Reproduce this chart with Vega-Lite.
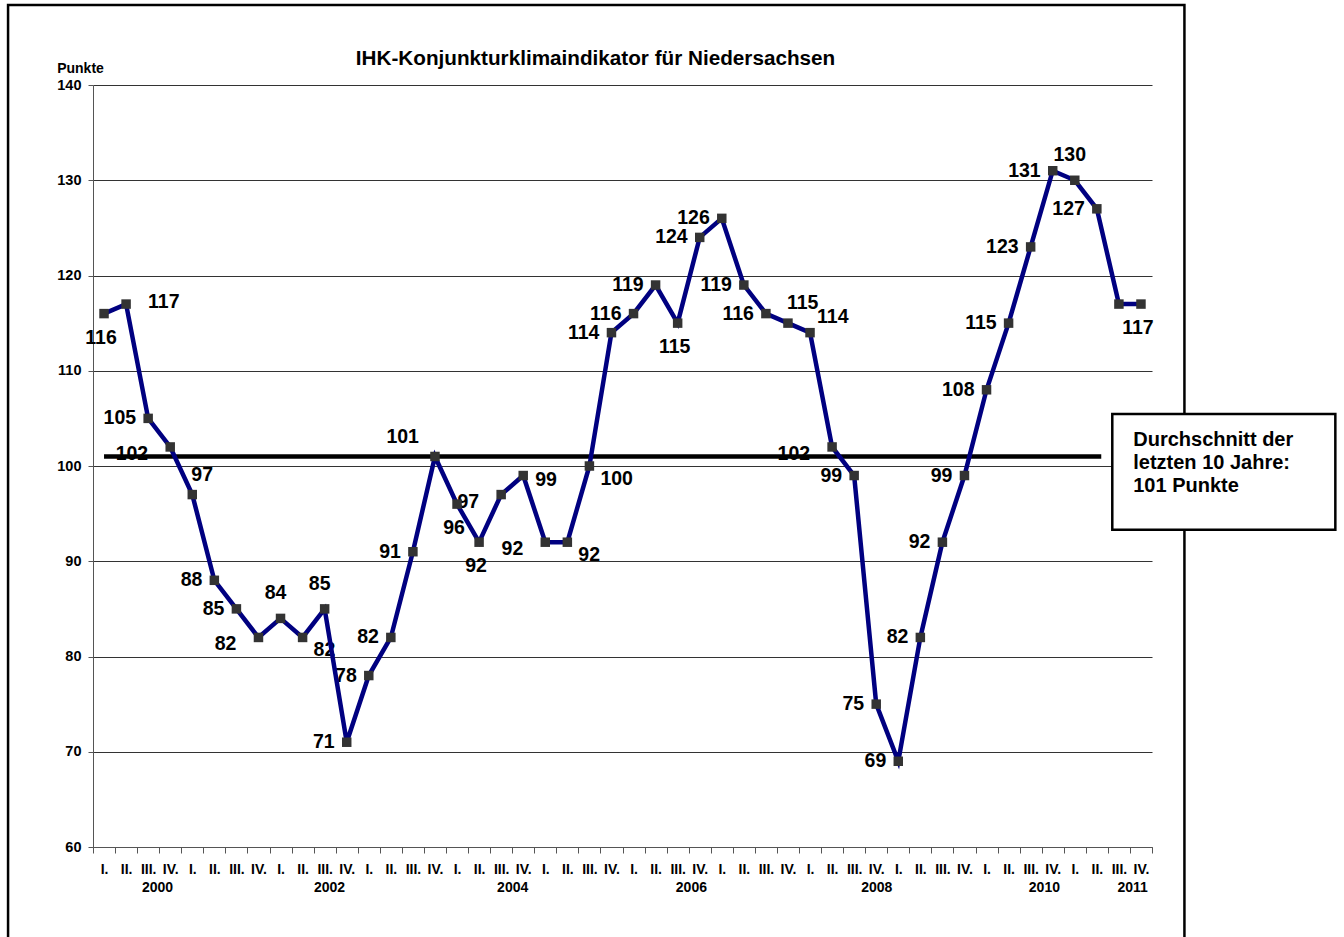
{
  "$schema": "https://vega.github.io/schema/vega-lite/v6.json",
  "width": 1059,
  "height": 762,
  "autosize": {"type": "none"},
  "padding": {"left": 93, "top": 85, "right": 192, "bottom": 90},
  "background": "white",
  "title": {
    "text": "IHK-Konjunkturklimaindikator für Niedersachsen",
    "fontSize": 20.7,
    "fontWeight": "bold",
    "font": "Liberation Sans",
    "color": "black",
    "anchor": "middle",
    "frame": "group",
    "dx": -27,
    "dy": 80,
    "offset": 14
  },
  "config": {
    "view": {"stroke": null},
    "font": "Liberation Sans",
    "text": {"font": "Liberation Sans"}
  },
  "datasets": {
    "series": [
      {"q": 0, "v": 116, "labelSide": "b"},
      {"q": 1, "v": 117, "labelSide": "rr"},
      {"q": 2, "v": 105, "labelSide": "l"},
      {"q": 3, "v": 102, "labelSide": "bl"},
      {"q": 4, "v": 97, "labelSide": "tr"},
      {"q": 5, "v": 88, "labelSide": "l"},
      {"q": 6, "v": 85, "labelSide": "l"},
      {"q": 7, "v": 82, "labelSide": "bl"},
      {"q": 8, "v": 84, "labelSide": "t"},
      {"q": 9, "v": 82, "labelSide": "br"},
      {"q": 10, "v": 85, "labelSide": "t"},
      {"q": 11, "v": 71, "labelSide": "l"},
      {"q": 12, "v": 78, "labelSide": "l"},
      {"q": 13, "v": 82, "labelSide": "l"},
      {"q": 14, "v": 91, "labelSide": "l"},
      {"q": 15, "v": 101, "labelSide": "tl"},
      {"q": 16, "v": 96, "labelSide": "b"},
      {"q": 17, "v": 92, "labelSide": "b"},
      {"q": 18, "v": 97, "labelSide": "bl"},
      {"q": 19, "v": 99, "labelSide": "r"},
      {"q": 20, "v": 92, "labelSide": "bl"},
      {"q": 21, "v": 92, "labelSide": "br"},
      {"q": 22, "v": 100, "labelSide": "br"},
      {"q": 23, "v": 114, "labelSide": "l"},
      {"q": 24, "v": 116, "labelSide": "l"},
      {"q": 25, "v": 119, "labelSide": "l"},
      {"q": 26, "v": 115, "labelSide": "b"},
      {"q": 27, "v": 124, "labelSide": "l"},
      {"q": 28, "v": 126, "labelSide": "l"},
      {"q": 29, "v": 119, "labelSide": "l"},
      {"q": 30, "v": 116, "labelSide": "l"},
      {"q": 31, "v": 115, "labelSide": "tr"},
      {"q": 32, "v": 114, "labelSide": "rt"},
      {"q": 33, "v": 102, "labelSide": "bl"},
      {"q": 34, "v": 99, "labelSide": "l"},
      {"q": 35, "v": 75, "labelSide": "l"},
      {"q": 36, "v": 69, "labelSide": "l"},
      {"q": 37, "v": 82, "labelSide": "l"},
      {"q": 38, "v": 92, "labelSide": "l"},
      {"q": 39, "v": 99, "labelSide": "l"},
      {"q": 40, "v": 108, "labelSide": "l"},
      {"q": 41, "v": 115, "labelSide": "l"},
      {"q": 42, "v": 123, "labelSide": "l"},
      {"q": 43, "v": 131, "labelSide": "l"},
      {"q": 44, "v": 130, "labelSide": "t"},
      {"q": 45, "v": 127, "labelSide": "l"},
      {"q": 46, "v": 117, "labelSide": "none"},
      {"q": 47, "v": 117, "labelSide": "b"}
    ],
    "avg": [{"avg": 101, "from": 0, "to": 45.2}],
    "frame": [{"x0": -4.35, "x1": 48.97, "y0": 50, "y1": 148.4}],
    "note": [{"x0": 45.7, "x1": 55.81, "y0": 93.3, "y1": 105.46, "tx": 46.65, "ty": 103.8, "text": "Durchschnitt der\nletzten 10 Jahre:\n101 Punkte"}]
  },
  "layer": [
    {
      "data": {"name": "frame"},
      "mark": {"type": "rect", "fill": "white", "fillOpacity": 0, "stroke": "black", "strokeWidth": 2.5},
      "encoding": {
        "x": {"field": "x0", "type": "quantitative", "scale": {"domain": [-0.5, 47.5], "nice": false, "zero": false}, "axis": null},
        "x2": {"field": "x1"},
        "y": {"field": "y0", "type": "quantitative", "scale": {"domain": [60, 140], "nice": false, "zero": false},
          "axis": {"orient": "left", "values": [60, 70, 80, 90, 100, 110, 120, 130, 140], "grid": true, "gridColor": "#333333", "gridWidth": 1, "tickSize": 5, "tickColor": "#555555", "domainColor": "#555555", "labelFontSize": 14.5, "labelFontWeight": "bold", "labelPadding": 7, "labelColor": "black", "labelFont": "Liberation Sans", "title": "Punkte", "titleAngle": 0, "titleX": -13, "titleY": -17, "titleAlign": "center", "titleBaseline": "middle", "titleFontSize": 14, "titleFontWeight": "bold", "titleColor": "black", "titleFont": "Liberation Sans"}},
        "y2": {"field": "y1"}
      }
    },
    {
      "data": {"name": "series"},
      "transform": [{"filter": "datum.labelSide == 'l'"}],
      "mark": {"type": "text", "align": "right", "baseline": "middle", "dx": -12, "dy": 0, "fontSize": 19.5, "fontWeight": "bold", "color": "black"},
      "encoding": {
        "x": {"field": "q", "type": "quantitative", "scale": {"domain": [-0.5, 47.5], "nice": false, "zero": false}, "axis": null},
        "y": {"field": "v", "type": "quantitative", "scale": {"domain": [60, 140], "nice": false, "zero": false}, "axis": null},
        "text": {"field": "v", "type": "quantitative"}
      }
    },
    {
      "data": {"name": "series"},
      "transform": [{"filter": "datum.labelSide == 'bl'"}],
      "mark": {"type": "text", "align": "right", "baseline": "middle", "dx": -22, "dy": 7, "fontSize": 19.5, "fontWeight": "bold", "color": "black"},
      "encoding": {
        "x": {"field": "q", "type": "quantitative", "scale": {"domain": [-0.5, 47.5], "nice": false, "zero": false}, "axis": null},
        "y": {"field": "v", "type": "quantitative", "scale": {"domain": [60, 140], "nice": false, "zero": false}, "axis": null},
        "text": {"field": "v", "type": "quantitative"}
      }
    },
    {
      "data": {"name": "series"},
      "transform": [{"filter": "datum.labelSide == 'tl'"}],
      "mark": {"type": "text", "align": "right", "baseline": "middle", "dx": -16, "dy": -19, "fontSize": 19.5, "fontWeight": "bold", "color": "black"},
      "encoding": {
        "x": {"field": "q", "type": "quantitative", "scale": {"domain": [-0.5, 47.5], "nice": false, "zero": false}, "axis": null},
        "y": {"field": "v", "type": "quantitative", "scale": {"domain": [60, 140], "nice": false, "zero": false}, "axis": null},
        "text": {"field": "v", "type": "quantitative"}
      }
    },
    {
      "data": {"name": "series"},
      "transform": [{"filter": "datum.labelSide == 'r'"}],
      "mark": {"type": "text", "align": "left", "baseline": "middle", "dx": 12, "dy": 4, "fontSize": 19.5, "fontWeight": "bold", "color": "black"},
      "encoding": {
        "x": {"field": "q", "type": "quantitative", "scale": {"domain": [-0.5, 47.5], "nice": false, "zero": false}, "axis": null},
        "y": {"field": "v", "type": "quantitative", "scale": {"domain": [60, 140], "nice": false, "zero": false}, "axis": null},
        "text": {"field": "v", "type": "quantitative"}
      }
    },
    {
      "data": {"name": "series"},
      "transform": [{"filter": "datum.labelSide == 'rr'"}],
      "mark": {"type": "text", "align": "left", "baseline": "middle", "dx": 22, "dy": -2, "fontSize": 19.5, "fontWeight": "bold", "color": "black"},
      "encoding": {
        "x": {"field": "q", "type": "quantitative", "scale": {"domain": [-0.5, 47.5], "nice": false, "zero": false}, "axis": null},
        "y": {"field": "v", "type": "quantitative", "scale": {"domain": [60, 140], "nice": false, "zero": false}, "axis": null},
        "text": {"field": "v", "type": "quantitative"}
      }
    },
    {
      "data": {"name": "series"},
      "transform": [{"filter": "datum.labelSide == 'tr'"}],
      "mark": {"type": "text", "align": "left", "baseline": "middle", "dx": -1, "dy": -20, "fontSize": 19.5, "fontWeight": "bold", "color": "black"},
      "encoding": {
        "x": {"field": "q", "type": "quantitative", "scale": {"domain": [-0.5, 47.5], "nice": false, "zero": false}, "axis": null},
        "y": {"field": "v", "type": "quantitative", "scale": {"domain": [60, 140], "nice": false, "zero": false}, "axis": null},
        "text": {"field": "v", "type": "quantitative"}
      }
    },
    {
      "data": {"name": "series"},
      "transform": [{"filter": "datum.labelSide == 'rt'"}],
      "mark": {"type": "text", "align": "left", "baseline": "middle", "dx": 7, "dy": -16, "fontSize": 19.5, "fontWeight": "bold", "color": "black"},
      "encoding": {
        "x": {"field": "q", "type": "quantitative", "scale": {"domain": [-0.5, 47.5], "nice": false, "zero": false}, "axis": null},
        "y": {"field": "v", "type": "quantitative", "scale": {"domain": [60, 140], "nice": false, "zero": false}, "axis": null},
        "text": {"field": "v", "type": "quantitative"}
      }
    },
    {
      "data": {"name": "series"},
      "transform": [{"filter": "datum.labelSide == 'br'"}],
      "mark": {"type": "text", "align": "left", "baseline": "middle", "dx": 11, "dy": 13, "fontSize": 19.5, "fontWeight": "bold", "color": "black"},
      "encoding": {
        "x": {"field": "q", "type": "quantitative", "scale": {"domain": [-0.5, 47.5], "nice": false, "zero": false}, "axis": null},
        "y": {"field": "v", "type": "quantitative", "scale": {"domain": [60, 140], "nice": false, "zero": false}, "axis": null},
        "text": {"field": "v", "type": "quantitative"}
      }
    },
    {
      "data": {"name": "series"},
      "transform": [{"filter": "datum.labelSide == 't'"}],
      "mark": {"type": "text", "align": "center", "baseline": "middle", "dx": -5, "dy": -25, "fontSize": 19.5, "fontWeight": "bold", "color": "black"},
      "encoding": {
        "x": {"field": "q", "type": "quantitative", "scale": {"domain": [-0.5, 47.5], "nice": false, "zero": false}, "axis": null},
        "y": {"field": "v", "type": "quantitative", "scale": {"domain": [60, 140], "nice": false, "zero": false}, "axis": null},
        "text": {"field": "v", "type": "quantitative"}
      }
    },
    {
      "data": {"name": "series"},
      "transform": [{"filter": "datum.labelSide == 'b'"}],
      "mark": {"type": "text", "align": "center", "baseline": "middle", "dx": -3, "dy": 24, "fontSize": 19.5, "fontWeight": "bold", "color": "black"},
      "encoding": {
        "x": {"field": "q", "type": "quantitative", "scale": {"domain": [-0.5, 47.5], "nice": false, "zero": false}, "axis": null},
        "y": {"field": "v", "type": "quantitative", "scale": {"domain": [60, 140], "nice": false, "zero": false}, "axis": null},
        "text": {"field": "v", "type": "quantitative"}
      }
    },
    {
      "data": {"name": "avg"},
      "mark": {"type": "rule", "color": "black", "strokeWidth": 4.5},
      "encoding": {
        "x": {"field": "from", "type": "quantitative", "scale": {"domain": [-0.5, 47.5], "nice": false, "zero": false},
          "axis": {"orient": "bottom", "values": [2.4, 10.2, 18.5, 26.6, 35.0, 42.6, 46.6], "labelExpr": "'' + (2000 + floor(datum.value / 4))", "ticks": false, "domain": false, "grid": false, "labelPadding": 33, "labelFontSize": 14, "labelFontWeight": "bold", "labelColor": "black", "labelFont": "Liberation Sans", "labelOverlap": false, "labelFlush": false, "title": null}},
        "x2": {"field": "to"},
        "y": {"field": "avg", "type": "quantitative", "scale": {"domain": [60, 140], "nice": false, "zero": false}, "axis": null}
      }
    },
    {
      "data": {"name": "series"},
      "mark": {"type": "line", "color": "#000080", "strokeWidth": 4.5},
      "encoding": {
        "x": {"field": "q", "type": "quantitative", "scale": {"domain": [-0.5, 47.5], "nice": false, "zero": false},
          "axis": {"orient": "bottom", "values": [0,1,2,3,4,5,6,7,8,9,10,11,12,13,14,15,16,17,18,19,20,21,22,23,24,25,26,27,28,29,30,31,32,33,34,35,36,37,38,39,40,41,42,43,44,45,46,47], "labelExpr": "['I.','II.','III.','IV.'][datum.value % 4]", "ticks": false, "domain": false, "grid": false, "labelPadding": 15, "labelFontSize": 14, "labelFontWeight": "bold", "labelColor": "black", "labelFont": "Liberation Sans", "labelOverlap": false, "labelFlush": false, "title": null}},
        "y": {"field": "v", "type": "quantitative", "scale": {"domain": [60, 140], "nice": false, "zero": false}, "axis": null}
      }
    },
    {
      "data": {"name": "series"},
      "mark": {"type": "square", "size": 90, "color": "#333333", "filled": true, "opacity": 1},
      "encoding": {
        "x": {"field": "q", "type": "quantitative", "scale": {"domain": [-0.5, 47.5], "nice": false, "zero": false},
          "axis": {"orient": "bottom", "values": [-0.5,0.5,1.5,2.5,3.5,4.5,5.5,6.5,7.5,8.5,9.5,10.5,11.5,12.5,13.5,14.5,15.5,16.5,17.5,18.5,19.5,20.5,21.5,22.5,23.5,24.5,25.5,26.5,27.5,28.5,29.5,30.5,31.5,32.5,33.5,34.5,35.5,36.5,37.5,38.5,39.5,40.5,41.5,42.5,43.5,44.5,45.5,46.5,47.5], "labels": false, "ticks": true, "tickSize": 6, "tickColor": "#555555", "domain": true, "domainColor": "#555555", "grid": false, "title": null}},
        "y": {"field": "v", "type": "quantitative", "scale": {"domain": [60, 140], "nice": false, "zero": false}, "axis": null}
      }
    },
    {
      "data": {"name": "note"},
      "mark": {"type": "rect", "fill": "white", "stroke": "black", "strokeWidth": 2.5},
      "encoding": {
        "x": {"field": "x0", "type": "quantitative", "scale": {"domain": [-0.5, 47.5], "nice": false, "zero": false}, "axis": null},
        "x2": {"field": "x1"},
        "y": {"field": "y0", "type": "quantitative", "scale": {"domain": [60, 140], "nice": false, "zero": false}, "axis": null},
        "y2": {"field": "y1"}
      }
    },
    {
      "data": {"name": "note"},
      "mark": {"type": "text", "align": "left", "baseline": "top", "lineBreak": "\n", "lineHeight": 23, "fontSize": 20, "fontWeight": "bold", "color": "black"},
      "encoding": {
        "x": {"field": "tx", "type": "quantitative", "scale": {"domain": [-0.5, 47.5], "nice": false, "zero": false}, "axis": null},
        "y": {"field": "ty", "type": "quantitative", "scale": {"domain": [60, 140], "nice": false, "zero": false}, "axis": null},
        "text": {"field": "text", "type": "nominal"}
      }
    }
  ],
  "resolve": {"axis": {"x": "independent", "y": "independent"}}
}
